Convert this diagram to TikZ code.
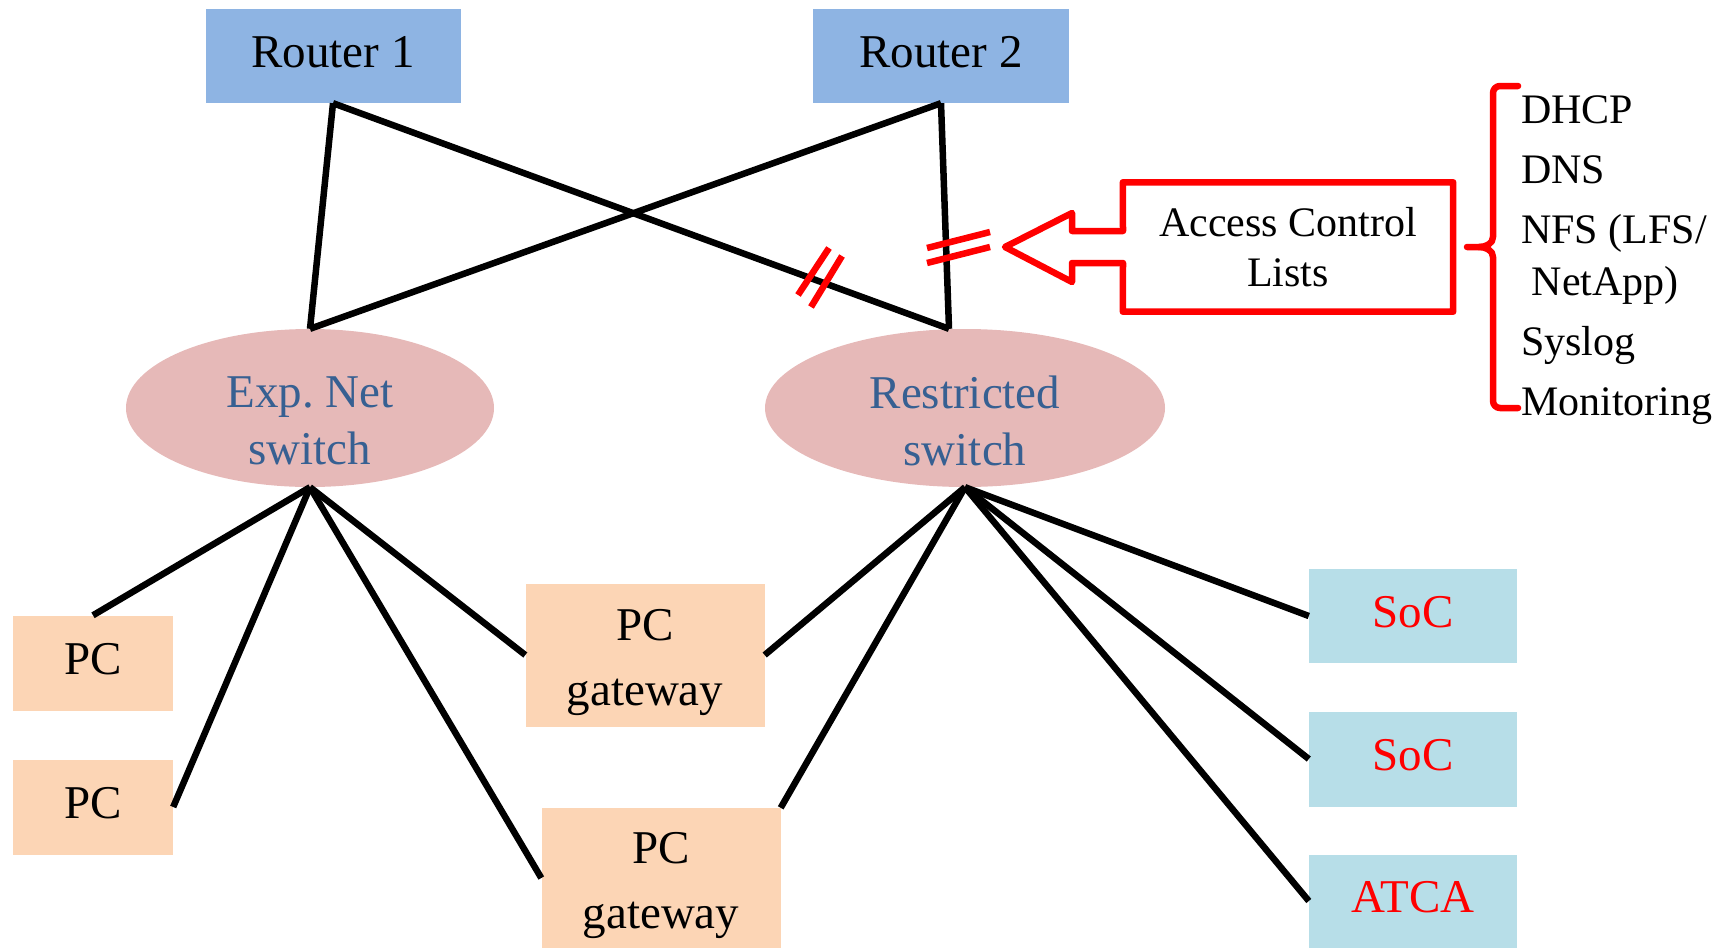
\documentclass[tikz,border=0pt]{standalone}
\usepackage{fontspec}
\setmainfont{Liberation Serif}
\usetikzlibrary{shapes.geometric}
\definecolor{routerblue}{RGB}{142,180,227}
\definecolor{swpink}{RGB}{230,185,184}
\definecolor{swtext}{RGB}{55,96,146}
\definecolor{pcorange}{RGB}{252,213,181}
\definecolor{socblue}{RGB}{183,222,232}
\begin{document}
\begin{tikzpicture}[x=1pt, y=-1pt,
  blk/.style={rectangle, inner sep=0pt, text height=32pt, text depth=10pt, font=\fontsize{47}{57}\selectfont},
  box/.style={rectangle, inner sep=0pt},
  txt/.style={inner sep=0pt, align=center, font=\fontsize{47}{57}\selectfont},
  sw/.style={ellipse, fill=swpink, inner sep=0pt},
  wire/.style={line width=6.5pt},
  cut/.style={draw=red, line width=6.5pt},
  acl/.style={draw=red, line width=6.5pt, line join=round}]
  \useasboundingbox (0,0) rectangle (1728,948);
  % routers and switches
  \node[blk, fill=routerblue, minimum width=255pt, minimum height=94pt] (R1) at (333,56) {Router 1};
  \node[blk, fill=routerblue, minimum width=256pt, minimum height=94pt] (R2) at (941,56) {Router 2};
  \node[sw, minimum width=368pt, minimum height=158pt] (EN) at (310,408) {};
  \node[txt, text=swtext] (ENt) at (310,421) {Exp.\ Net\\switch};
  \node[sw, minimum width=400pt, minimum height=158pt] (RS) at (965,408) {};
  \node[txt, text=swtext] (RSt) at (965,421) {Restricted\\switch};
  % hosts
  \node[blk, fill=pcorange, minimum width=160pt, minimum height=95pt] (PC1) at (93,663) {PC};
  \node[blk, fill=pcorange, minimum width=160pt, minimum height=95pt] (PC2) at (93,807) {PC};
  \node[box, fill=pcorange, minimum width=239pt, minimum height=143pt] (GW1) at (645,655) {};
  \node[txt, font=\fontsize{47}{65}\selectfont] (GW1t) at (645,662) {PC\\gateway};
  \node[box, fill=pcorange, minimum width=239pt, minimum height=140pt] (GW2) at (661,878) {};
  \node[txt, font=\fontsize{47}{65}\selectfont] (GW2t) at (661,885) {PC\\gateway};
  \node[blk, fill=socblue, text=red, minimum width=208pt, minimum height=94pt] (SoC1) at (1413,616) {SoC};
  \node[blk, fill=socblue, text=red, minimum width=208pt, minimum height=95pt] (SoC2) at (1413,759) {SoC};
  \node[blk, fill=socblue, text=red, minimum width=208pt, minimum height=93pt] (ATCA) at (1413,901) {ATCA};
  % access control lists
  \node[box, minimum width=330pt, minimum height=129pt, align=center, font=\fontsize{42}{50}\selectfont] (ACL) at (1288,247) {Access Control\\Lists};
  \node[anchor=west, align=left, inner sep=0pt, font=\fontsize{42}{60}\selectfont] (SRV) at (1521,260) {DHCP\\DNS\\NFS (LFS/\\[-8pt]\ NetApp)\\Syslog\\Monitoring};
  \coordinate (RStop) at ([xshift=-16pt]RS.north);
  \coordinate (tip) at (1005,247);
  \draw[wire] (R1.south) -- (EN.north);
  \draw[wire] (R1.south) -- (RStop);
  \draw[wire] (R2.south) -- (EN.north);
  \draw[wire] (R2.south) -- (RStop);
  \draw[wire] (EN.south) -- (PC1.north);
  \draw[wire] (EN.south) -- (PC2.east);
  \draw[wire] (EN.south) -- (GW1.west);
  \draw[wire] (EN.south) -- (GW2.west);
  \draw[wire] (RS.south) -- (GW1.east);
  \draw[wire] (RS.south) -- (GW2.north east);
  \draw[wire] (RS.south) -- (SoC1.west);
  \draw[wire] (RS.south) -- (SoC2.west);
  \draw[wire] (RS.south) -- (ATCA.west);
  % blocked links
  \draw[cut] (829,248) -- (798,295);
  \draw[cut] (842,256) -- (811,307);
  \draw[cut] (927,248) -- (990,232);
  \draw[cut] (927,263) -- (990,247);
  \draw[acl] (ACL.north west) -- (ACL.north east) -- (ACL.south east) -- (ACL.south west)
    -- (1123,263) -- (1072,263) -- (1072,282) -- (tip) -- (1072,213) -- (1072,231) -- (1123,231) -- cycle;
  \draw[acl, line cap=round] (1518,86) -- (1500,86) to[out=180,in=90] (1493,93) -- (1493,237)
    to[out=270,in=0] (1479,247) -- (1467,247);
  \draw[acl, line cap=round] (1479,247) to[out=0,in=90] (1493,257) -- (1493,401)
    to[out=270,in=180] (1500,408) -- (1518,408);
\end{tikzpicture}
\end{document}
